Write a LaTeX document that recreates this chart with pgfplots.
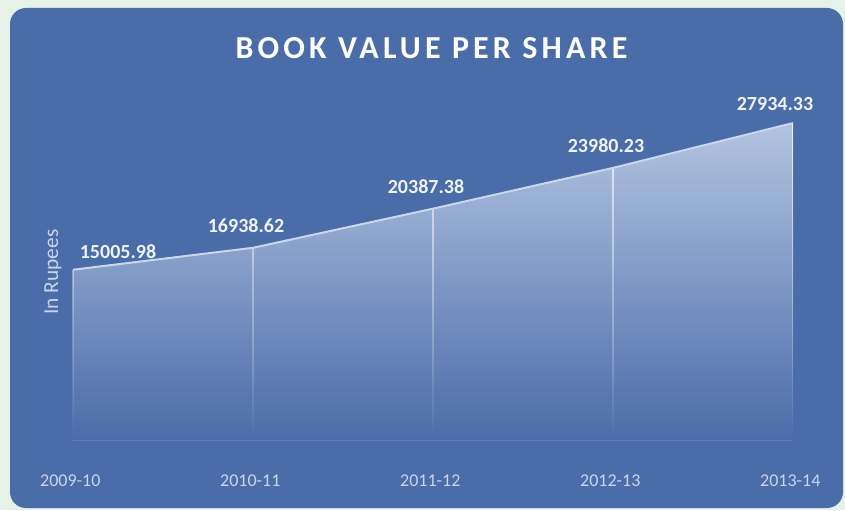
\documentclass[border=0pt]{standalone}
\usepackage{pgfplots}
\pgfplotsset{compat=1.18}
\usepackage{fontspec}
\setmainfont{Carlito}
\usetikzlibrary{fadings}
\definecolor{bgout}{HTML}{E6F1E8}
\definecolor{panel}{HTML}{4A6CA8}
\definecolor{areatop}{HTML}{B3C4E2}
\definecolor{edge}{HTML}{C9D6EE}
\definecolor{baseln}{HTML}{5E7EB8}
\definecolor{lbl}{HTML}{EEF3FB}
\definecolor{tlbl}{HTML}{C9D5EC}
\begin{document}
\begin{tikzpicture}
\fill[bgout] (0,0) rectangle (633.75pt,382.5pt);
\fill[panel, rounded corners=12pt] (7.5pt,1.5pt) rectangle (632.25pt,376.5pt);
\node[text=white, font=\bfseries\fontsize{24}{28}\selectfont\addfontfeatures{LetterSpace=13}] at (323.6pt,346.5pt) {BOOK VALUE PER SHARE};
\node[text=tlbl, rotate=90, font=\fontsize{16}{18}\selectfont] at (39.75pt,178.5pt) {In Rupees};
\begin{axis}[
  at={(54.75pt,52.5pt)}, anchor=south west,
  scale only axis, width=540pt, height=255.3pt,
  xmin=0, xmax=4, ymin=0, ymax=30000,
  clip=false,
  axis y line=none, axis x line=bottom,
  x axis line style={baseln, line width=1pt, -},
  xtick={0,1,2,3,4},
  xticklabels={2009-10,2010-11,2011-12,2012-13,2013-14},
  major tick length=0pt,
  xticklabel style={text=tlbl, font=\fontsize{13.5}{16}\selectfont, anchor=center, yshift=-30.75pt, xshift=-2pt},
]
\addplot[draw=none, top color=areatop, bottom color=panel, forget plot]
  coordinates {(0,15005.98) (1,16938.62) (2,20387.38) (3,23980.23) (4,27934.33)} \closedcycle;
\addplot[ycomb, draw=white, line width=1.3pt, opacity=0.75, path fading=south, forget plot]
  coordinates {(0,15005.98) (1,16938.62) (2,20387.38) (3,23980.23) (4,27934.33)};
\addplot[edge, line width=1.5pt, point meta=explicit symbolic, nodes near coords,
  every node near coord/.append style={font=\bfseries\fontsize{15}{18}\selectfont, text=lbl, anchor=center, xshift=-5.25pt, yshift=16.5pt},
  coordinate style/.condition={x==0}{xshift=39pt, yshift=-3pt},
  coordinate style/.condition={x==4}{xshift=-8.25pt, yshift=-2.25pt},
  forget plot]
  coordinates {(0,15005.98) [15005.98] (1,16938.62) [16938.62] (2,20387.38) [20387.38] (3,23980.23) [23980.23] (4,27934.33) [27934.33]};
\end{axis}
\end{tikzpicture}
\end{document}
